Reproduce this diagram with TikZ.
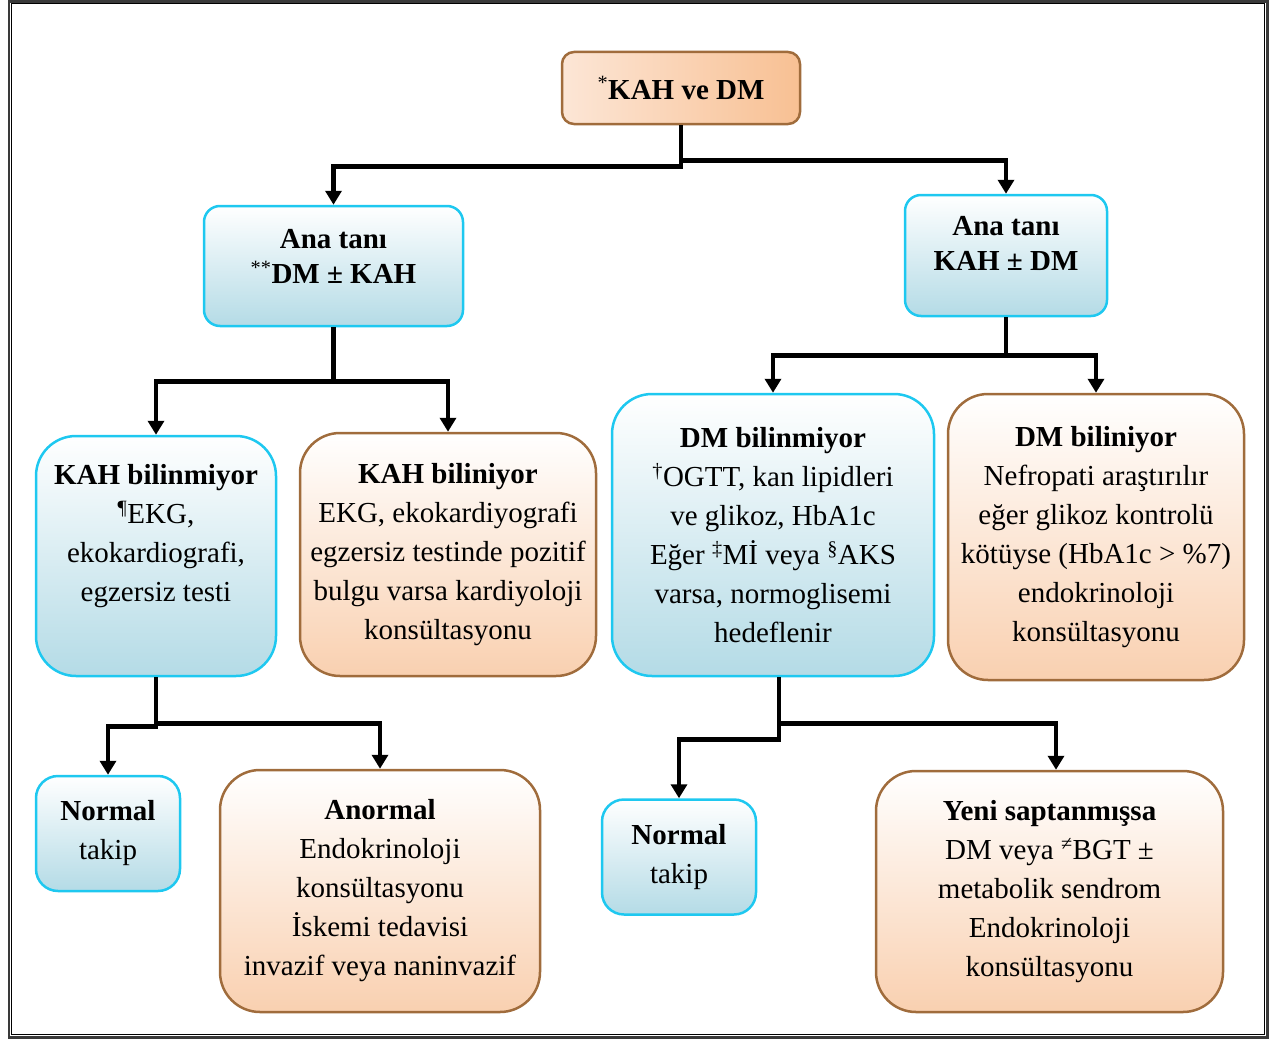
\documentclass[tikz,border=0pt]{standalone}
\usepackage{fontspec}
\setmainfont{Liberation Serif}
\usetikzlibrary{arrows.meta, positioning}
\definecolor{bluerim}{HTML}{1EC8F0}
\definecolor{bluefill}{HTML}{B4DBE6}
\definecolor{brownrim}{HTML}{A06C3C}
\definecolor{peachfill}{HTML}{F9D0B0}
\definecolor{rootpeach}{HTML}{F8C093}
\definecolor{rootlight}{HTML}{FCE6D6}
\definecolor{framegray}{HTML}{3A3A3A}

\begin{document}
\begin{tikzpicture}[
  base/.style={rectangle, align=center, inner sep=3pt, line width=2.5pt, font=\fontsize{29pt}{39pt}\selectfont},
  bluebox/.style={base, draw=bluerim, top color=white, bottom color=bluefill, rounded corners=40pt},
  orangebox/.style={base, draw=brownrim, top color=white, bottom color=peachfill, rounded corners=40pt},
  rootbox/.style={base, draw=brownrim, left color=rootlight, right color=rootpeach, rounded corners=12pt},
  anabox/.style={bluebox, rounded corners=16pt, font=\fontsize{29pt}{35pt}\selectfont},
  smallbox/.style={bluebox, rounded corners=22pt, minimum width=#1, minimum height=115pt},
  arr/.style={-{Triangle[width=16pt,length=14pt]}, line width=4.5pt},
]
\useasboundingbox (0,0) rectangle (1279pt,-1041pt);
\draw[framegray, line width=2.5pt] (9pt,-1.5pt) rectangle (1267.5pt,-1037.5pt);
\draw[black, line width=1pt] (11.5pt,-4pt) rectangle (1264.5pt,-1034.5pt);

\node[rootbox, minimum width=238pt, minimum height=72pt] (root) at (681pt,-88pt) {\textsuperscript{*}\textbf{KAH ve DM}};
\node[anabox, minimum width=259pt, minimum height=120pt, below left=79.5pt and 96.5pt of root] (anadm) {\textbf{Ana tanı}\\\textsuperscript{**}\textbf{DM ± KAH}\\[-15pt]};
\node[anabox, minimum width=202pt, minimum height=121pt, below right=68.5pt and 102.5pt of root] (anakah) {\textbf{Ana tanı}\\\textbf{KAH ± DM}\\[-11pt]};

\node[bluebox, minimum width=240pt, minimum height=240pt] (kahyok) at (156pt,-556pt) {\textbf{KAH bilinmiyor}\\\textsuperscript{¶}EKG,\\ekokardiografi,\\egzersiz testi\\[8pt]};
\node[orangebox, minimum width=296pt, minimum height=243pt, right=21.5pt of kahyok, yshift=1.5pt] (kahvar) {\textbf{KAH biliniyor}\\EKG, ekokardiyografi\\egzersiz testinde pozitif\\bulgu varsa kardiyoloji\\konsültasyonu};
\node[bluebox, minimum width=322pt, minimum height=282pt, right=13.5pt of kahvar, yshift=19.5pt] (dmyok) {\textbf{DM bilinmiyor}\\\textsuperscript{†}OGTT, kan lipidleri\\ve glikoz, HbA1c\\Eğer \textsuperscript{‡}Mİ veya \textsuperscript{§}AKS\\varsa, normoglisemi\\hedeflenir};
\node[orangebox, minimum width=296pt, minimum height=286pt, right=11.5pt of dmyok, yshift=-2pt] (dmvar) {\textbf{DM biliniyor}\\Nefropati araştırılır\\eğer glikoz kontrolü\\kötüyse (HbA1c > \%7)\\endokrinoloji\\konsültasyonu};

\node[smallbox=144pt] (normal1) at (108pt,-833.5pt) {\textbf{Normal}\\takip};
\node[orangebox, minimum width=320pt, minimum height=242pt, right=37.5pt of normal1, yshift=-57.5pt] (anormal) {\textbf{Anormal}\\Endokrinoloji\\konsültasyonu\\İskemi tedavisi\\invazif veya naninvazif};
\node[smallbox=154pt, right=59.5pt of anormal, yshift=34pt] (normal2) {\textbf{Normal}\\takip};
\node[orangebox, minimum width=347pt, minimum height=241pt, right=117.5pt of normal2, yshift=-34.5pt] (yeni) {\textbf{Yeni saptanmışsa}\\DM veya \textsuperscript{≠}BGT ±\\metabolik sendrom\\Endokrinoloji\\konsültasyonu};

\draw[arr] (root.south) -- ++(0,-41pt) -| (anadm.north);
\draw[arr] (root.south) -- ++(0,-35pt) -| (anakah.north);
\draw[arr] (anadm.south) -- ++(0,-54pt) -| (kahyok.north);
\draw[arr] (anadm.south) -- ++(0,-54pt) -| (kahvar.north);
\draw[arr] (anakah.south) -- ++(0,-38pt) -| (dmyok.north);
\draw[arr] (anakah.south) -- ++(0,-38pt) -| (dmvar.north);
\draw[arr] (kahyok.south) -- ++(0,-49pt) -| (normal1.north);
\draw[arr] (kahyok.south) -- ++(0,-46pt) -| (anormal.north);
\draw[arr] ([xshift=6pt]dmyok.south) -- ++(0,-62pt) -| (normal2.north);
\draw[arr] ([xshift=6pt]dmyok.south) -- ++(0,-46pt) -| ([xshift=6.5pt]yeni.north);
\end{tikzpicture}
\end{document}
